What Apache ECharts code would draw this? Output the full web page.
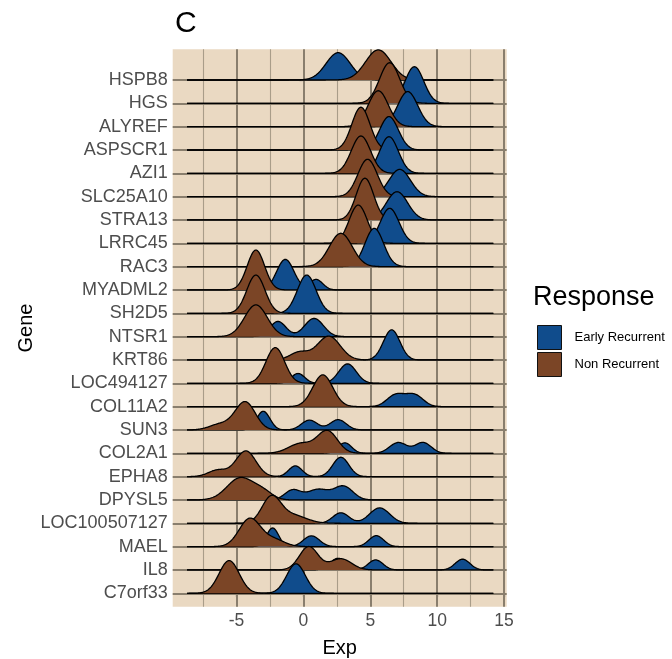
<!DOCTYPE html>
<html>
<head>
<meta charset="utf-8">
<script src="https://cdn.jsdelivr.net/npm/echarts@6/dist/echarts.min.js"></script>
<style>
  html, body { margin: 0; padding: 0; background: #fff; }
  #chart { width: 672px; height: 659px; }
</style>
</head>
<body>
<div id="chart"></div>
<script>
let genes = ['HSPB8', 'HGS', 'ALYREF', 'ASPSCR1', 'AZI1', 'SLC25A10', 'STRA13', 'LRRC45',
  'RAC3', 'MYADML2', 'SH2D5', 'NTSR1', 'KRT86', 'LOC494127', 'COL11A2', 'SUN3',
  'COL2A1', 'EPHA8', 'DPYSL5', 'LOC100507127', 'MAEL', 'IL8', 'C7orf33']

let groups = ['Early Recurrent', 'Non Recurrent']

// density bumps: [centre, spread, height in rows]
let earlyPeaks = [
  [[2.6, 0.9, 1.17]],
  [[8.3, 0.7, 1.57]],
  [[7.8, 0.75, 1.5]],
  [[6.4, 0.7, 1.43]],
  [[6.4, 0.7, 1.57]],
  [[7.2, 0.8, 1.17]],
  [[7.0, 0.8, 1.21]],
  [[6.45, 0.7, 1.5]],
  [[5.3, 0.7, 1.64]],
  [[-1.35, 0.65, 1.31], [0.95, 0.5, 0.45]],
  [[0.25, 0.7, 1.64]],
  [[-1.9, 0.6, 0.65], [0.8, 0.7, 0.78]],
  [[6.6, 0.62, 1.29]],
  [[-0.4, 0.5, 0.42], [3.3, 0.65, 0.83]],
  [[6.9, 0.65, 0.5], [8.3, 0.65, 0.5]],
  [[-3.0, 0.5, 0.8], [0.45, 0.6, 0.42], [2.6, 0.6, 0.44]],
  [[3.1, 0.5, 0.45], [7.1, 0.65, 0.46], [8.95, 0.6, 0.46]],
  [[-0.6, 0.5, 0.46], [2.8, 0.6, 0.83]],
  [[-0.8, 0.6, 0.42], [1.1, 0.8, 0.45], [3.0, 0.7, 0.58]],
  [[2.8, 0.6, 0.45], [5.7, 0.75, 0.66]],
  [[-2.3, 0.45, 0.8], [0.6, 0.6, 0.46], [5.45, 0.55, 0.47]],
  [[2.6, 0.6, 0.5], [5.4, 0.55, 0.43], [11.9, 0.55, 0.46]],
  [[-0.55, 0.7, 1.26]]
]

let nonPeaks = [
  [[5.6, 0.95, 1.29]],
  [[6.45, 0.75, 1.74]],
  [[5.6, 0.75, 1.54]],
  [[4.3, 0.68, 1.83]],
  [[4.3, 0.72, 1.6]],
  [[4.8, 0.72, 1.6]],
  [[4.6, 0.65, 1.79]],
  [[4.1, 0.68, 1.64]],
  [[2.8, 0.85, 1.43]],
  [[-3.55, 0.65, 1.71]],
  [[-3.55, 0.68, 1.64]],
  [[-3.55, 0.85, 1.36]],
  [[1.9, 0.85, 1.02], [-0.3, 0.7, 0.33]],
  [[-2.1, 0.7, 1.53]],
  [[1.45, 0.75, 1.36]],
  [[-4.35, 0.75, 1.2], [-6.2, 0.8, 0.25]],
  [[1.8, 0.75, 0.95], [-0.2, 0.9, 0.42]],
  [[-4.3, 0.75, 1.1], [-6.4, 0.7, 0.28]],
  [[-4.7, 1.0, 0.95], [-3.0, 0.7, 0.3]],
  [[-2.4, 0.7, 1.1], [-0.8, 1.0, 0.35]],
  [[-4.0, 0.8, 1.2], [-2.2, 0.8, 0.3]],
  [[0.4, 0.7, 1.0], [2.8, 0.8, 0.48]],
  [[-5.55, 0.75, 1.4]]
]

let xTicks = [-5, 0, 5, 10, 15]
let xMinor = [-7.5, -2.5, 2.5, 7.5, 12.5]
let dataRange = [-8.7, 14.2]

let colors = ['#104C8C', '#7B4526']

let curves = []
genes.forEach((g, i) => {
  let base = genes.length - 1 - i
  ;[earlyPeaks[i], nonPeaks[i]].forEach((peaks, gi) => {
    let xs = []
    let ys = []
    for (let x = dataRange[0]; x <= dataRange[1] + 1e-9; x += 0.05) {
      let y = 0
      peaks.forEach(p => { y += p[2] * Math.exp(-0.5 * Math.pow((x - p[0]) / p[1], 2)) })
      xs.push(x)
      ys.push(y)
    }
    curves.push({ base: base, group: gi, xs: xs, ys: ys })
  })
})

let majorLine = { color: '#897E6D', width: 2, type: 'solid' }
let minorLine = { color: '#A99D89', width: 1.1, type: 'solid' }
let gridLines = []
xTicks.forEach(v => gridLines.push({ xAxis: v, lineStyle: majorLine }))
xMinor.forEach(v => gridLines.push({ xAxis: v, lineStyle: minorLine }))
genes.forEach((g, i) => gridLines.push({ yAxis: genes.length - 1 - i, lineStyle: majorLine }))

let chart = echarts.init(document.getElementById('chart'))
chart.setOption({
  animation: false,
  title: [{
    text: 'C', left: 170, top: 4,
    textStyle: { fontSize: 30, fontWeight: 'normal', color: '#000', fontFamily: 'Liberation Sans' }
  }, {
    text: 'Response', left: 528, top: 279,
    textStyle: { fontSize: 27, fontWeight: 'normal', color: '#000', fontFamily: 'Liberation Sans' }
  }],
  legend: {
    orient: 'vertical', left: 532, top: 320,
    icon: 'rect', itemWidth: 24, itemHeight: 24, itemGap: 2,
    itemStyle: { borderColor: '#111', borderWidth: 1 },
    textStyle: { fontSize: 13, color: '#000', fontFamily: 'Liberation Sans', padding: [0, 0, 0, 8] },
    data: groups
  },
  grid: {
    left: 172.7, right: 165.3, top: 49.3, bottom: 52.3,
    outerBoundsMode: 'none',
    show: true, backgroundColor: '#EAD9C2', borderWidth: 0
  },
  xAxis: {
    type: 'value', min: -9.77, max: 15.2,
    name: 'Exp', nameLocation: 'middle', nameGap: 32,
    nameTextStyle: { fontSize: 20, color: '#000', fontFamily: 'Liberation Sans' },
    axisLine: { show: false },
    axisTick: { show: true, length: 4, customValues: xTicks, lineStyle: { color: '#555', width: 1.2 } },
    axisLabel: { customValues: xTicks, fontSize: 17.5, color: '#4d4d4d', margin: 5, fontFamily: 'Liberation Sans' },
    splitLine: { show: false }
  },
  yAxis: {
    type: 'value', min: -0.575, max: 23.315,
    name: 'Gene', nameLocation: 'middle', nameGap: 131, nameRotate: 90,
    nameTextStyle: { fontSize: 20, color: '#000', fontFamily: 'Liberation Sans' },
    axisLine: { show: false },
    axisTick: { show: true, length: 4, customValues: genes.map((g, i) => i), lineStyle: { color: '#555', width: 1.2 } },
    axisLabel: {
      customValues: genes.map((g, i) => i),
      formatter: v => genes[genes.length - 1 - Math.round(v)],
      fontSize: 18, color: '#4d4d4d', margin: 5, fontFamily: 'Liberation Sans'
    },
    splitLine: { show: false }
  },
  series: [{
    name: 'grid', type: 'line', data: [], z: 1, silent: true,
    markLine: { silent: true, z: 1, symbol: 'none', label: { show: false }, data: gridLines, animation: false }
  }, {
    name: 'Early Recurrent', type: 'line', data: [], itemStyle: { color: colors[0] }
  }, {
    name: 'Non Recurrent', type: 'line', data: [], itemStyle: { color: colors[1] }
  }, {
    name: 'ridges', type: 'custom', z: 10, silent: true,
    data: curves.map((c, i) => [0, c.base, i]),
    encode: { x: 0, y: 1 },
    renderItem: (params, api) => {
      let c = curves[api.value(2)]
      let pts = c.xs.map((x, k) => api.coord([x, c.base + c.ys[k]]))
      let poly = pts.concat([api.coord([c.xs[c.xs.length - 1], c.base]), api.coord([c.xs[0], c.base])])
      return {
        type: 'group',
        children: [{
          type: 'polygon', shape: { points: poly },
          style: { fill: colors[c.group], stroke: null }
        }, {
          type: 'polyline', shape: { points: pts },
          style: { fill: null, stroke: '#000', lineWidth: 1.3 }
        }]
      }
    }
  }]
})
</script>
</body>
</html>
